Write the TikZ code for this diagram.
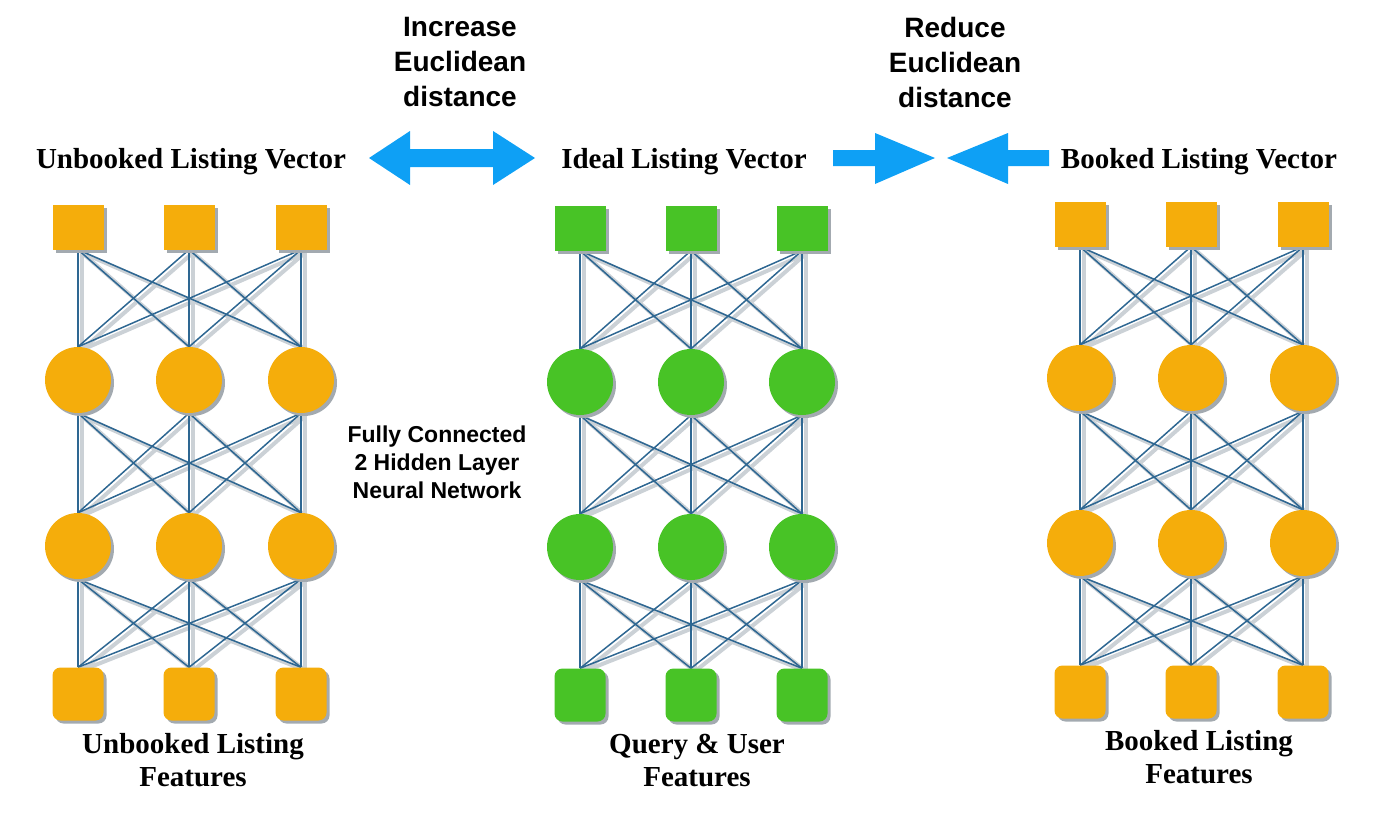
\documentclass[tikz,border=0pt]{standalone}
\usepackage{fontspec}
\setmainfont{Liberation Serif}
\newfontfamily\sansfont{Liberation Sans}
\usetikzlibrary{shadows,backgrounds}
\definecolor{orng}{HTML}{F5AD0B}
\definecolor{grn}{HTML}{48C326}
\definecolor{arrowblue}{HTML}{0EA0F5}
\definecolor{linkblue}{HTML}{2E6792}
\definecolor{lshade}{HTML}{CBD1D6}
\definecolor{nshade}{HTML}{A3AAB0}
\begin{document}
\begin{tikzpicture}[x=1pt,y=-1pt,
  nsh/.style={drop shadow={shadow xshift=3pt, shadow yshift=-3pt, fill=nshade, opacity=1}},
  topsq/.style={rectangle, minimum width=51pt, minimum height=45pt, inner sep=0pt, nsh},
  hid/.style={circle, minimum size=66pt, inner sep=0pt, nsh},
  botsq/.style={rectangle, rounded corners=8pt, minimum width=51pt, minimum height=53pt, inner sep=0pt, nsh},
  link/.style={draw=linkblue, line width=1.5pt},
  linkshadow/.style={draw=lshade, line width=4pt},
  vec/.style={font=\bfseries\fontsize{29}{33}\selectfont, inner sep=0pt},
  feat/.style={font=\bfseries\fontsize{29}{33}\selectfont, align=center, inner sep=0pt},
  note/.style={font=\sansfont\bfseries\fontsize{28}{35}\selectfont, align=center, inner sep=0pt},
  fcnote/.style={font=\sansfont\bfseries\fontsize{23}{28}\selectfont, align=center, inner sep=0pt},
  bigarrow/.style={fill=arrowblue, draw=none}]
\useasboundingbox (0,0) rectangle (1400,822);

% networks
\foreach \n/\xa/\xb/\xc/\ya/\yb/\yc/\yd/\col in {A/78/189/301/227/380/546/694/orng, B/580/691/802/228/382/547/695/grn, C/1080/1191/1303/224/378/543/692/orng} {
  \foreach \i/\x in {1/\xa,2/\xb,3/\xc} {
    \node[topsq, fill=\col] (\n0\i) at (\x,\ya) {};
    \node[hid, fill=\col] (\n1\i) at (\x,\yb) {};
    \node[hid, fill=\col] (\n2\i) at (\x,\yc) {};
    \node[botsq, fill=\col] (\n3\i) at (\x,\yd) {};
  }
}
\begin{pgfonlayer}{background}
\foreach \n in {A,B,C} {
  \foreach \l/\m in {0/1,1/2,2/3} {
    \foreach \i in {1,2,3} {
      \foreach \j in {1,2,3} {
        \draw[linkshadow] ([shift={(4,3)}]\n\l\i.south) -- ([shift={(4,3)}]\n\m\j.north);
      }
    }
  }
}
\foreach \n in {A,B,C} {
  \foreach \l/\m in {0/1,1/2,2/3} {
    \foreach \i in {1,2,3} {
      \foreach \j in {1,2,3} {
        \draw[link] (\n\l\i.south) -- (\n\m\j.north);
      }
    }
  }
}
\end{pgfonlayer}

% titles
\node[vec] (uvec) at (191,162) {Unbooked Listing Vector};
\node[vec] (ivec) at (684,162) {Ideal Listing Vector};
\node[vec] (bvec) at (1199,162) {Booked Listing Vector};

\node[note] (inc) at (460,62) {Increase\\Euclidean\\distance};
\node[note] (red) at (955,62) {Reduce\\Euclidean\\distance};

\node[fcnote] (fc) at (437,462) {Fully Connected\\2 Hidden Layer\\Neural Network};

\node[feat] (uf) at (193,760) {Unbooked Listing\\Features};
\node[feat] (qf) at (697,761) {Query \& User\\Features};
\node[feat] (bf) at (1199,757) {Booked Listing\\Features};

% arrows
\fill[bigarrow] (369,158) -- (410,131) -- (410,149) -- (493,149) -- (493,131) -- (535,158)
  -- (493,185) -- (493,167) -- (410,167) -- (410,185) -- cycle;
\fill[bigarrow] (833,150) -- (875,150) -- (875,133) -- (935,158) -- (875,184) -- (875,166) -- (833,166) -- cycle;
\fill[bigarrow] (1049,150) -- (1008,150) -- (1008,133) -- (947,158) -- (1008,184) -- (1008,166) -- (1049,166) -- cycle;
\end{tikzpicture}
\end{document}
